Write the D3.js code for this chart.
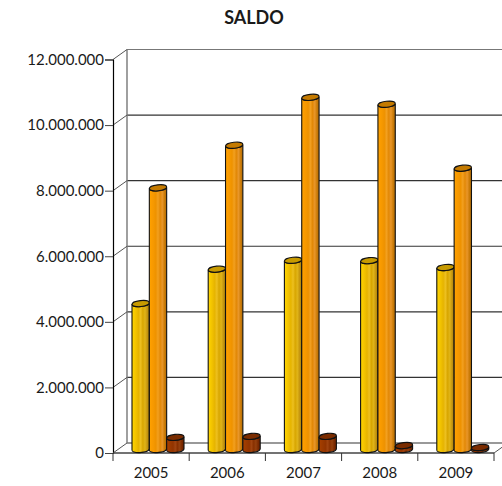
<!DOCTYPE html>
<html>
<head>
<meta charset="utf-8">
<script src="https://cdn.jsdelivr.net/npm/d3@7"></script>
<style>
  html, body { margin: 0; padding: 0; background: #fff; }
  text { font-family: Lato, sans-serif; fill: #1a1a1a; }
</style>
</head>
<body>
<div id="chart"></div>
<script>
const years = ['2005', '2006', '2007', '2008', '2009'];
const seriesNames = ['a', 'b', 'c'];
const serieA = [4450000, 5500000, 5770000, 5760000, 5550000];
const serieB = [7980000, 9280000, 10740000, 10530000, 8580000];
const serieC = [370000, 400000, 400000, 120000, 60000];
const allSeries = [serieA, serieB, serieC];
const yTicks = [0, 2000000, 4000000, 6000000, 8000000, 10000000, 12000000];

const width = 502, height = 486;
const depthX = 14, depthY = -10;

const x = d3.scaleBand().domain(years).range([113, 494]);
const barX = d3.scaleBand().domain(seriesNames).range([19, 71]);
const y = d3.scaleLinear().domain([0, 12000000]).range([453, 59.5]);
const fmt = d => d3.format(',')(d).replace(/,/g, '.');

const svg = d3.select('#chart').append('svg')
    .attr('width', width)
    .attr('height', height)
    .style('display', 'block');

// colours per series, left to right across the cylinder, stripes on the shaded side
const palettes = [
    ['#ffd800', '#f8cb00', '#f0c000', '#e6b400', '#edc020', '#d8a600', '#e0b418', '#c69610', '#a88008'],
    ['#ffa400', '#fb9c00', '#f59800', '#ee9200', '#f2a020', '#e28806', '#e8962a', '#cc7c08', '#b06c08'],
    ['#a84000', '#a03c00', '#983800', '#923400', '#a04410', '#883000', '#94400e', '#7c2a00', '#682200']
];
const topColors = ['#c79a00', '#c47a00', '#7a2c00'];

const defs = svg.append('defs');
palettes.forEach((p, i) => {
    const g = defs.append('linearGradient').attr('id', 'cyl' + i);
    p.forEach((c, j) => g.append('stop')
        .attr('offset', j / (p.length - 1))
        .attr('stop-color', c));
});

// back wall and gridlines
svg.append('g').selectAll('line').data(yTicks).enter().append('line')
    .attr('x1', 113 + depthX)
    .attr('x2', width)
    .attr('y1', d => y(d) + depthY)
    .attr('y2', d => y(d) + depthY)
    .attr('stroke', (d, i) => i === 0 || i === 6 ? '#777' : '#333')
    .attr('stroke-width', (d, i) => i === 0 ? 1.6 : 1.2);

svg.append('line')
    .attr('x1', 113 + depthX).attr('x2', 113 + depthX)
    .attr('y1', y(0) + depthY).attr('y2', y(12000000) + depthY)
    .attr('stroke', '#777').attr('stroke-width', 1.4);

// left wall diagonals
svg.append('g').selectAll('line').data(yTicks).enter().append('line')
    .attr('x1', 113)
    .attr('x2', 113 + depthX)
    .attr('y1', d => y(d))
    .attr('y2', d => y(d) + depthY)
    .attr('stroke', '#555');

// floor edge at the right
svg.append('line')
    .attr('x1', 494).attr('x2', 494 + depthX)
    .attr('y1', y(0)).attr('y2', y(0) + depthY)
    .attr('stroke', '#555');

// axes
const yAxis = svg.append('g')
    .attr('transform', 'translate(113,0)')
    .call(d3.axisLeft(y).tickValues(yTicks).tickFormat(fmt).tickSize(8).tickPadding(1));
yAxis.select('.domain').attr('stroke', '#000').attr('stroke-width', 1.2);
yAxis.selectAll('.tick line').attr('stroke', '#444');
yAxis.selectAll('text').style('font-size', '15px');

const xAxis = svg.append('g')
    .attr('transform', 'translate(0,' + y(0) + ')')
    .call(d3.axisBottom(x).tickSize(0).tickPadding(14));
xAxis.select('.domain').remove();
xAxis.selectAll('text').style('font-size', '15px');

svg.append('line')
    .attr('x1', 113).attr('x2', 494)
    .attr('y1', y(0)).attr('y2', y(0))
    .attr('stroke', '#444').attr('stroke-width', 1.6);

svg.append('g').selectAll('line')
    .data(x.domain().map(d => x(d)).concat([x.range()[1]]))
    .enter().append('line')
    .attr('x1', d => d).attr('x2', d => d)
    .attr('y1', y(0)).attr('y2', y(0) + 8)
    .attr('stroke', '#333');

// cylinders, drawn with the floor offset from the front axis
const baseShift = y(0) - 450;
const ry = 3;
seriesNames.forEach((name, s) => {
    const bars = svg.append('g').selectAll('g')
        .data(years.map((yr, i) => ({ yr: yr, v: allSeries[s][i] })))
        .enter().append('g');

    bars.append('path')
        .attr('d', d => {
            const w = barX.bandwidth();
            const x0 = x(d.yr) + barX(name);
            const top = y(d.v) - baseShift;
            const bot = y(0) - baseShift;
            return 'M' + x0 + ',' + top + 'L' + x0 + ',' + bot +
                'A' + (w / 2) + ',' + ry + ' -6 0 0 ' + (x0 + w) + ',' + (bot - 1) +
                'L' + (x0 + w) + ',' + (top - 1) +
                'A' + (w / 2) + ',' + ry + ' -6 0 1 ' + x0 + ',' + top + 'Z';
        })
        .attr('fill', 'url(#cyl' + s + ')')
        .attr('stroke', '#111')
        .attr('stroke-width', 1.1);

    bars.append('ellipse')
        .attr('cx', d => x(d.yr) + barX(name) + barX.bandwidth() / 2)
        .attr('cy', d => y(d.v) - baseShift - 0.5)
        .attr('rx', barX.bandwidth() / 2)
        .attr('ry', ry)
        .attr('transform', d => 'rotate(-6,' + (x(d.yr) + barX(name) + barX.bandwidth() / 2) + ',' + (y(d.v) - baseShift - 0.5) + ')')
        .attr('fill', topColors[s])
        .attr('stroke', '#111')
        .attr('stroke-width', 1.1);
});

svg.append('text')
    .attr('x', 254)
    .attr('y', 24)
    .attr('text-anchor', 'middle')
    .style('font-size', '18px')
    .style('font-weight', 700)
    .text('SALDO');
</script>
</body>
</html>
